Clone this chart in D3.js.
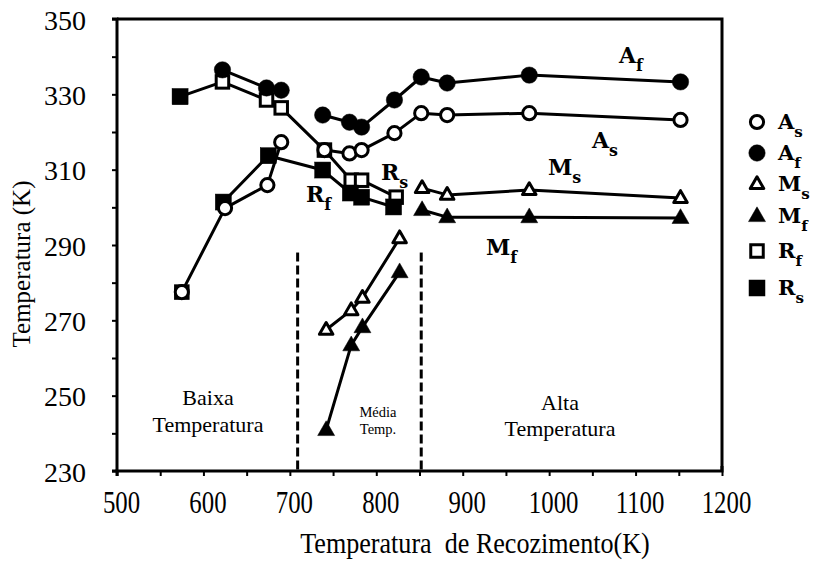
<!DOCTYPE html>
<html>
<head>
<meta charset="utf-8">
<script src="https://cdn.jsdelivr.net/npm/d3@7/dist/d3.min.js"></script>
<style>
  html, body { margin: 0; padding: 0; background: #fff; }
  svg { display: block; }
</style>
</head>
<body>
<svg id="chart" width="835" height="565"></svg>
<script>
// Transformation temperatures (K) against annealing temperature (K).
// Each segment is a list of [annealing temperature, transformation temperature].
const afLowTemp  = [[622, 336.5], [673, 331.7], [690, 331.1]];
const afHighTemp = [[738, 324.5], [769, 322.6], [783, 321.3], [821, 328.5], [852, 334.6], [882, 333.0], [977, 335.1], [1152, 333.3]];
const asLowTemp  = [[575, 277.5], [625, 299.8], [674, 305.9], [690, 317.3]];
const asHighTemp = [[740, 315.2], [769, 314.3], [783, 315.2], [821, 319.7], [852, 325.0], [882, 324.5], [977, 325.0], [1152, 323.2]];
const rfLine     = [[573, 329.4], [622, 333.3], [673, 328.5], [690, 326.4], [740, 315.2], [771, 307.2], [783, 307.2], [823, 302.7]];
const rfSingle   = [[575, 277.5]];
const rsSingle   = [[573, 329.4]];
const rsLine     = [[623, 301.4], [675, 313.7], [738, 309.9], [770, 303.8], [783, 302.7], [820, 300.1]];
const msMidTemp  = [[742, 267.5], [771, 272.7], [784, 276.0], [827, 291.8]];
const msHighTemp = [[853, 305.1], [882, 303.3], [977, 304.6], [1152, 302.5]];
const mfMidTemp  = [[742, 240.9], [771, 263.4], [784, 268.2], [827, 282.8]];
const mfHighTemp = [[853, 299.3], [882, 297.4], [977, 297.4], [1152, 297.2]];

// Region boundaries (annealing temperature, K)
const regionBounds = [709, 852];

// Axis ticks
const xTickValues = [500, 600, 700, 800, 900, 1000, 1100, 1200];
const yTickValues = [230, 250, 270, 290, 310, 330, 350];

// Legend entries: marker type, main letter, subscript
const legendMarkers = ["circleOpen", "circleFilled", "triOpen", "triFilled", "squareOpen", "squareFilled"];
const legendLetters = ["A", "A", "M", "M", "R", "R"];
const legendSubs    = ["s", "f", "s", "f", "f", "s"];

const svg = d3.select("#chart");
const plotLeft = 117, plotRight = 722, plotTop = 19, plotBottom = 471;

const x = d3.scaleLinear().domain([500, 1200]).range([plotLeft, plotRight]);
const y = d3.scaleLinear().domain([230, 350]).range([plotBottom, plotTop]);

const serif = '"Liberation Serif", "Times New Roman", serif';
const boldSerif = '"DejaVu Serif", "Liberation Serif", serif';

// Frame (top and right borders)
svg.append("path")
  .attr("d", `M${plotLeft},${plotTop}H${plotRight}V${plotBottom}`)
  .attr("fill", "none").attr("stroke", "#000").attr("stroke-width", 3);

// Y axis: major labels every 20 K, minor ticks every 10 K
const yAxis = d3.axisLeft(y)
  .tickValues(d3.range(230, 351, 10))
  .tickSize(5)
  .tickPadding(26)
  .tickFormat(d => yTickValues.includes(d) ? d : "");
const gy = svg.append("g").attr("transform", `translate(${plotLeft},0)`).call(yAxis);
gy.attr("font-family", serif);
gy.select(".domain").attr("stroke-width", 3).attr("d", `M-5,${plotTop}H0V${plotBottom}H-5`);
gy.selectAll(".tick line").attr("stroke-width", 2);
gy.selectAll(".tick text").attr("font-size", 28).attr("font-family", serif).attr("fill", "#000")
  .attr("dy", "0.36em");

// X axis: ticks every 50 K, labels every 100 K (slightly condensed lettering)
const xAxis = d3.axisBottom(x)
  .tickValues(d3.range(500, 1201, 50))
  .tickSize(5)
  .tickPadding(0)
  .tickFormat(d => xTickValues.includes(d) ? d : "");
const gx = svg.append("g").attr("transform", `translate(0,${plotBottom})`).call(xAxis);
gx.attr("font-family", serif);
gx.select(".domain").attr("stroke-width", 3).attr("d", `M${plotLeft},5V0H${plotRight}V-5`);
gx.selectAll(".tick line").attr("stroke-width", 2);
gx.selectAll(".tick text")
  .attr("font-size", 31).attr("font-family", serif).attr("fill", "#000")
  .attr("y", 0).attr("dy", null)
  .attr("transform", "translate(4,42) scale(0.8,1)");

// Axis titles
svg.append("text")
  .attr("transform", "translate(475,553) scale(0.87,1)")
  .attr("text-anchor", "middle")
  .attr("font-family", serif).attr("font-size", 30)
  .attr("xml:space", "preserve")
  .text("Temperatura  de Recozimento(K)");

svg.append("text")
  .attr("transform", "translate(30,264) rotate(-90)")
  .attr("text-anchor", "middle")
  .attr("font-family", serif).attr("font-size", 25)
  .text("Temperatura (K)");

// Region boundaries
svg.selectAll("line.bound").data(regionBounds).enter().append("line")
  .attr("class", "bound")
  .attr("x1", d => x(d)).attr("x2", d => x(d))
  .attr("y1", y(288)).attr("y2", plotBottom)
  .attr("stroke", "#000").attr("stroke-width", 3)
  .attr("stroke-dasharray", "9,4");

// Region names
function regionLabel(cx, lines, size, baselines) {
  const t = svg.append("text").attr("text-anchor", "middle")
    .attr("font-family", serif).attr("font-size", size);
  lines.forEach((s, i) => t.append("tspan").attr("x", cx).attr("y", baselines[i]).text(s));
}
regionLabel(208, ["Baixa", "Temperatura"], 22, [405, 432]);
regionLabel(378, ["Média", "Temp."], 14.5, [417, 434]);
regionLabel(560, ["Alta", "Temperatura"], 22, [410, 436]);

// Lines
const line = d3.line().x(d => x(d[0])).y(d => y(d[1]));
const segments = [afLowTemp, afHighTemp, asLowTemp, asHighTemp, rfLine, rsLine,
                  msMidTemp, msHighTemp, mfMidTemp, mfHighTemp];
svg.selectAll("path.series").data(segments).enter().append("path")
  .attr("class", "series")
  .attr("d", line)
  .attr("fill", "none").attr("stroke", "#000").attr("stroke-width", 3)
  .attr("stroke-linejoin", "round");

// Marker shapes
function drawMarker(g, type, cx, cy) {
  const filled = type.endsWith("Filled");
  const fill = filled ? "#000" : "#fff";
  const sw = 3;
  if (type.startsWith("circle")) {
    g.append("circle").attr("cx", cx).attr("cy", cy).attr("r", filled ? 8.2 : 6.6)
      .attr("fill", fill).attr("stroke", "#000").attr("stroke-width", filled ? 0.5 : sw);
  } else if (type.startsWith("square")) {
    const s = filled ? 16 : 12.5;
    g.append("rect").attr("x", cx - s / 2).attr("y", cy - s / 2).attr("width", s).attr("height", s)
      .attr("fill", fill).attr("stroke", "#000").attr("stroke-width", filled ? 0.5 : sw);
  } else {
    const s = filled ? 17 : 13.5;
    const h = s * 0.87;
    g.append("path")
      .attr("d", `M${cx},${cy - h * 0.62}L${cx + s / 2},${cy + h * 0.38}L${cx - s / 2},${cy + h * 0.38}Z`)
      .attr("fill", fill).attr("stroke", "#000").attr("stroke-width", filled ? 0.5 : sw)
      .attr("stroke-linejoin", "round");
  }
}

const markerSets = [
  [rfLine, "squareOpen"], [rfSingle, "squareOpen"],
  [rsLine, "squareFilled"], [rsSingle, "squareFilled"],
  [afLowTemp, "circleFilled"], [afHighTemp, "circleFilled"],
  [asLowTemp, "circleOpen"], [asHighTemp, "circleOpen"],
  [msMidTemp, "triOpen"], [msHighTemp, "triOpen"],
  [mfMidTemp, "triFilled"], [mfHighTemp, "triFilled"]
];
const gm = svg.append("g");
markerSets.forEach(([pts, type]) => {
  pts.forEach(d => drawMarker(gm, type, x(d[0]), y(d[1])));
});

// Subscripted symbol labels
function symLabel(px, py, letter, sub, size) {
  const t = svg.append("text").attr("x", px).attr("y", py)
    .attr("font-family", boldSerif).attr("font-weight", "bold").attr("font-size", size);
  t.append("tspan").text(letter);
  t.append("tspan").attr("font-size", size * 0.72).attr("dy", size * 0.38).text(sub);
}
symLabel(619, 63, "A", "f", 22);
symLabel(592, 148, "A", "s", 22);
symLabel(548, 175, "M", "s", 22);
symLabel(486, 255, "M", "f", 22);
symLabel(381, 180, "R", "s", 22);
symLabel(306, 202, "R", "f", 22);

// Legend
const legendY = [122, 153, 184, 216, 251, 288];
legendMarkers.forEach((m, i) => {
  drawMarker(svg, m, 757, legendY[i]);
  symLabel(778, legendY[i] + 7, legendLetters[i], legendSubs[i], 21);
});
</script>
</body>
</html>
